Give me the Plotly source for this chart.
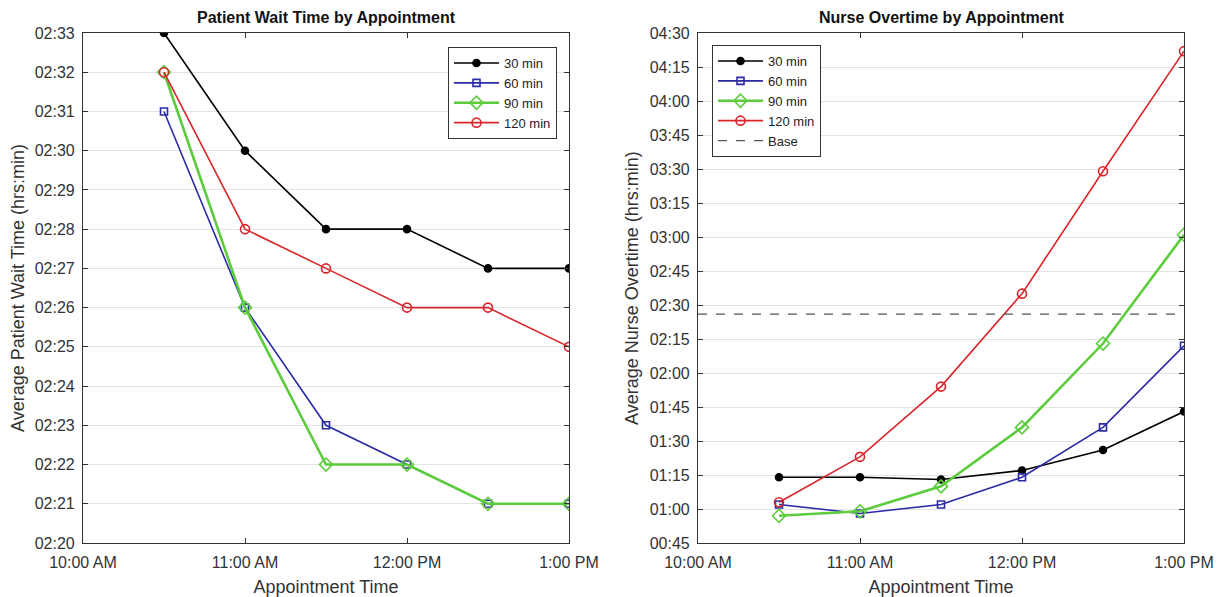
import plotly.graph_objects as go

times = ["2020-01-01 10:30", "2020-01-01 11:00", "2020-01-01 11:30",
         "2020-01-01 12:00", "2020-01-01 12:30", "2020-01-01 13:00"]

# Patient wait time, minutes (e.g. 153 = 02:33)
wait_30 = [153, 150, 148, 148, 147, 147]
wait_60 = [151, 146, 143, 142, 141, 141]
wait_90 = [152, 146, 142, 142, 141, 141]
wait_120 = [152, 148, 147, 146, 146, 145]

# Nurse overtime, minutes
ot_30 = [74, 74, 73, 77, 86, 103]
ot_60 = [62, 58, 62, 74, 96, 132]
ot_90 = [57, 59, 70, 96, 133, 181]
ot_120 = [63, 83, 114, 155, 209, 262]
ot_base = 146

series_names = ["30 min", "60 min", "90 min", "120 min"]
colors = ["#000000", "#2b2ba6", "#5ccc3c", "#d8262a"]
symbols = ["circle", "square-open", "diamond-open", "circle-open"]
msizes = [7, 7, 10, 9]
lwidths = [1.6, 1.6, 2.6, 1.6]

wait_ticks = list(range(140, 154))
ot_ticks = list(range(45, 271, 15))


def hm(m):
    return f"{m // 60:02d}:{m % 60:02d}"


fig = go.Figure()

for i, ys in enumerate([wait_30, wait_60, wait_90, wait_120]):
    fig.add_trace(go.Scatter(
        x=times, y=ys, mode="lines+markers", name=series_names[i],
        line=dict(color=colors[i], width=lwidths[i]),
        marker=dict(symbol=symbols[i], size=msizes[i], color=colors[i],
                    line=dict(color=colors[i], width=1.6)),
        xaxis="x", yaxis="y", legend="legend"))

for i, ys in enumerate([ot_30, ot_60, ot_90, ot_120]):
    fig.add_trace(go.Scatter(
        x=times, y=ys, mode="lines+markers", name=series_names[i],
        line=dict(color=colors[i], width=lwidths[i]),
        marker=dict(symbol=symbols[i], size=msizes[i], color=colors[i],
                    line=dict(color=colors[i], width=1.6)),
        xaxis="x2", yaxis="y2", legend="legend2"))

fig.add_trace(go.Scatter(
    x=["2020-01-01 10:00", "2020-01-01 13:00"], y=[ot_base, ot_base],
    mode="lines", name="Base",
    line=dict(color="#555555", width=1.2, dash="dash"),
    xaxis="x2", yaxis="y2", legend="legend2"))

font_fam = "Liberation Sans, Arial, sans-serif"

xcommon = dict(
    type="date", range=["2020-01-01 10:00", "2020-01-01 13:00"],
    tickvals=["2020-01-01 10:00", "2020-01-01 11:00", "2020-01-01 12:00", "2020-01-01 13:00"],
    ticktext=["10:00 AM", "11:00 AM", "12:00 PM", "1:00 PM"],
    showgrid=False, zeroline=False, showline=True, linecolor="#333333", linewidth=1.2,
    mirror="ticks", ticks="inside", ticklen=5, tickcolor="#333333",
    tickfont=dict(size=16, color="#333333", family=font_fam), ticklabelstandoff=5,
    title=dict(text="Appointment Time", font=dict(size=18, color="#333333", family=font_fam),
               standoff=10),
    automargin=False,
)
ycommon = dict(
    showgrid=True, gridcolor="#e3e3e3", gridwidth=1, zeroline=False,
    showline=True, linecolor="#333333", linewidth=1.2, mirror="ticks",
    ticks="inside", ticklen=5, tickcolor="#333333",
    tickfont=dict(size=16, color="#333333", family=font_fam), ticklabelstandoff=4,
    automargin=False,
)

W, H = 1217, 589

fig.update_layout(
    width=W, height=H,
    margin=dict(l=0, r=0, t=0, b=0),
    paper_bgcolor="white", plot_bgcolor="white",
    font=dict(family=font_fam, color="#333333"),
    xaxis=dict(domain=[75 / W, 561 / W], anchor="y", **xcommon),
    xaxis2=dict(domain=[690 / W, 1176 / W], anchor="y2", **xcommon),
    yaxis=dict(domain=[1 - 535 / H, 1 - 25 / H], anchor="x", range=[140, 153],
               tickvals=wait_ticks, ticktext=[hm(m) for m in wait_ticks],
               title=dict(text="Average Patient Wait Time (hrs:min)",
                          font=dict(size=18, color="#333333", family=font_fam), standoff=6),
               **ycommon),
    yaxis2=dict(domain=[1 - 535 / H, 1 - 25 / H], anchor="x2", range=[45, 270],
                tickvals=ot_ticks, ticktext=[hm(m) for m in ot_ticks],
                title=dict(text="Average Nurse Overtime (hrs:min)",
                           font=dict(size=18, color="#333333", family=font_fam), standoff=6),
                **ycommon),
    legend=dict(x=549 / W, y=1 - 39 / H, xanchor="right", yanchor="top",
                bgcolor="white", bordercolor="#333333", borderwidth=1,
                font=dict(size=13, color="#222222", family=font_fam),
                tracegroupgap=0, itemwidth=45),
    legend2=dict(x=704 / W, y=1 - 37 / H, xanchor="left", yanchor="top",
                 bgcolor="white", bordercolor="#333333", borderwidth=1,
                 font=dict(size=13, color="#222222", family=font_fam),
                 tracegroupgap=0, itemwidth=45),
    showlegend=True,
    annotations=[
        dict(text="<b>Patient Wait Time by Appointment</b>", x=318 / W, y=1 - 9 / H,
             xref="paper", yref="paper", xanchor="center", yanchor="middle",
             showarrow=False, font=dict(size=16, color="#111111", family=font_fam)),
        dict(text="<b>Nurse Overtime by Appointment</b>", x=933 / W, y=1 - 9 / H,
             xref="paper", yref="paper", xanchor="center", yanchor="middle",
             showarrow=False, font=dict(size=16, color="#111111", family=font_fam)),
    ],
)

fig.write_html("out.html")
